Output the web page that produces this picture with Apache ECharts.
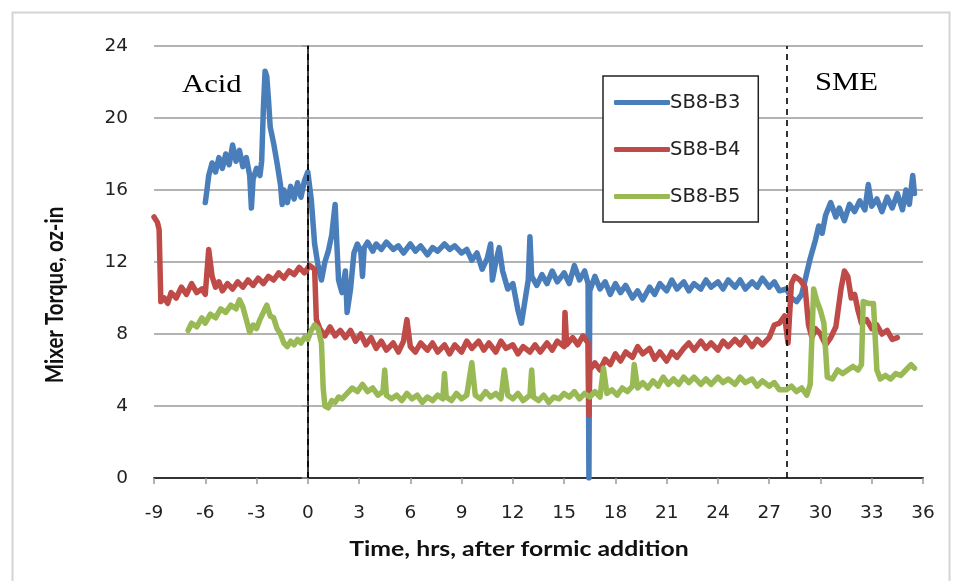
<!DOCTYPE html>
<html>
<head>
<meta charset="utf-8">
<script src="https://cdn.jsdelivr.net/npm/echarts@6/dist/echarts.min.js"></script>
<style>
  html, body { margin: 0; padding: 0; background: #fff; }
  #chart { width: 958px; height: 581px; }
</style>
</head>
<body>
<div id="chart"></div>
<script>
// Mixer torque (oz-in) vs time (hrs) after formic acid addition

const xTicks = [-9, -6, -3, 0, 3, 6, 9, 12, 15, 18, 21, 24, 27, 30, 33, 36];
const yTicks = [0, 4, 8, 12, 16, 20, 24];
const phaseMarks = [0, 28];
const seriesNames = ['SB8-B3', 'SB8-B4', 'SB8-B5'];

// SB8-B3
const b3Time = [-6.0,-5.9,-5.8,-5.6,-5.4,-5.2,-5.0,-4.8,-4.6,-4.4,-4.2,-4.0,-3.8,-3.6,-3.4,-3.3,-3.2,-3.0,-2.8,-2.7,-2.6,-2.5,-2.4,-2.3,-2.2,-2.0,-1.8,-1.6,-1.5,-1.4,-1.2,-1.0,-0.8,-0.6,-0.4,-0.2,0.0,0.2,0.4,0.6,0.8,1.0,1.2,1.4,1.6,1.7,1.8,2.0,2.2,2.3,2.5,2.7,2.9,3.1,3.2,3.3,3.5,3.8,4.0,4.3,4.6,5.0,5.3,5.6,6.0,6.3,6.6,7.0,7.3,7.6,8.0,8.3,8.6,9.0,9.3,9.6,9.9,10.2,10.5,10.7,10.8,11.0,11.2,11.4,11.7,12.0,12.3,12.5,12.7,12.9,13.0,13.1,13.4,13.7,14.0,14.3,14.6,15.0,15.3,15.6,15.9,16.2,16.4,16.45,16.5,16.8,17.1,17.4,17.7,18.0,18.3,18.6,19.0,19.3,19.6,20.0,20.3,20.6,21.0,21.3,21.6,22.0,22.3,22.6,23.0,23.3,23.6,24.0,24.3,24.6,25.0,25.3,25.6,26.0,26.3,26.6,27.0,27.3,27.6,28.0,28.3,28.6,28.9,29.1,29.4,29.7,29.9,30.1,30.3,30.6,30.9,31.1,31.4,31.7,32.0,32.3,32.6,32.8,33.0,33.3,33.6,33.9,34.2,34.5,34.8,35.0,35.2,35.4,35.5];
const b3Torque = [15.3,16.0,16.8,17.5,17.0,17.8,17.2,18.0,17.4,18.5,17.6,18.2,17.3,17.8,16.8,15.0,16.6,17.2,16.8,17.6,20.5,22.6,22.3,21.0,19.5,18.6,17.5,16.3,15.2,16.0,15.3,16.2,15.5,16.4,15.6,16.5,17.0,15.5,13.0,11.8,11.0,12.0,12.6,13.5,15.2,13.0,11.0,10.3,11.5,9.2,10.5,12.5,13.0,12.6,11.2,12.8,13.1,12.6,13.0,12.7,13.1,12.7,12.9,12.5,13.0,12.6,12.9,12.4,12.8,12.6,13.0,12.7,12.9,12.5,12.7,12.1,12.5,11.6,12.2,13.0,11.0,12.0,12.8,11.5,10.5,10.8,9.3,8.6,9.8,11.0,13.4,11.2,10.7,11.3,10.8,11.5,10.9,11.4,10.8,11.8,11.0,11.5,10.8,0.0,10.4,11.2,10.5,10.9,10.2,10.8,10.3,10.7,10.0,10.4,9.9,10.6,10.2,10.8,10.4,11.0,10.5,10.9,10.4,10.8,10.5,11.0,10.6,10.9,10.5,11.0,10.6,11.0,10.5,10.9,10.6,11.1,10.6,10.9,10.4,10.5,10.0,9.8,10.2,11.0,12.2,13.2,14.0,13.6,14.6,15.3,14.5,15.0,14.3,15.2,14.8,15.4,14.9,16.3,15.1,15.5,14.8,15.6,15.0,15.8,14.9,16.0,15.2,16.8,15.8];

// SB8-B4
const b4Time = [-9.0,-8.8,-8.7,-8.6,-8.4,-8.2,-8.0,-7.7,-7.4,-7.1,-6.8,-6.5,-6.2,-6.0,-5.8,-5.6,-5.4,-5.2,-5.0,-4.7,-4.4,-4.1,-3.8,-3.5,-3.2,-2.9,-2.6,-2.3,-2.0,-1.7,-1.4,-1.1,-0.8,-0.5,-0.2,0.1,0.4,0.5,0.7,1.0,1.3,1.6,1.9,2.2,2.5,2.8,3.1,3.4,3.7,4.0,4.3,4.6,5.0,5.3,5.6,5.8,6.0,6.3,6.6,7.0,7.3,7.6,8.0,8.3,8.6,9.0,9.3,9.6,10.0,10.3,10.6,11.0,11.3,11.6,12.0,12.3,12.6,13.0,13.3,13.6,14.0,14.3,14.6,15.0,15.05,15.15,15.5,15.8,16.1,16.4,16.45,16.5,16.8,17.1,17.4,17.7,18.0,18.3,18.6,19.0,19.3,19.6,20.0,20.3,20.6,21.0,21.3,21.6,22.0,22.3,22.6,23.0,23.3,23.6,24.0,24.3,24.6,25.0,25.3,25.6,26.0,26.3,26.6,27.0,27.3,27.6,27.9,28.1,28.3,28.5,28.8,29.1,29.3,29.5,29.7,30.0,30.3,30.6,30.9,31.2,31.4,31.6,31.8,32.0,32.2,32.4,32.7,33.0,33.3,33.6,33.9,34.2,34.5];
const b4Torque = [14.5,14.2,13.8,9.8,10.0,9.7,10.3,10.0,10.6,10.2,10.8,10.3,10.5,10.2,12.7,11.2,10.6,10.9,10.4,10.8,10.5,10.9,10.6,11.0,10.7,11.1,10.8,11.2,11.0,11.4,11.1,11.5,11.3,11.7,11.4,11.8,11.6,8.8,8.3,7.9,8.4,7.9,8.2,7.8,8.2,7.6,8.0,7.4,7.8,7.2,7.6,7.1,7.5,7.0,7.6,8.8,7.3,7.0,7.5,7.1,7.5,7.0,7.4,6.9,7.4,7.0,7.6,7.2,7.6,7.1,7.5,7.0,7.6,7.2,7.4,6.9,7.3,7.0,7.4,7.0,7.5,7.1,7.6,7.3,9.2,7.4,7.8,7.4,7.9,7.5,3.5,6.0,6.4,6.0,6.6,6.3,6.9,6.5,7.0,6.7,7.3,6.9,7.2,6.6,7.0,6.5,7.0,6.7,7.2,7.5,7.1,7.6,7.2,7.5,7.1,7.6,7.3,7.7,7.4,7.8,7.3,7.7,7.4,7.8,8.5,8.6,9.0,7.5,10.8,11.2,11.0,10.6,8.5,7.8,8.3,8.0,7.4,7.8,8.4,10.5,11.5,11.2,10.0,10.2,9.3,8.6,8.8,8.3,8.5,8.0,8.2,7.7,7.8];

// SB8-B5
const b5Time = [-7.0,-6.8,-6.5,-6.2,-6.0,-5.7,-5.4,-5.1,-4.8,-4.5,-4.2,-4.0,-3.8,-3.6,-3.4,-3.2,-3.0,-2.8,-2.6,-2.4,-2.2,-2.0,-1.8,-1.6,-1.4,-1.2,-1.0,-0.8,-0.6,-0.4,-0.2,0.0,0.2,0.4,0.6,0.8,0.9,1.0,1.2,1.4,1.6,1.8,2.0,2.3,2.6,2.9,3.2,3.5,3.8,4.1,4.4,4.5,4.6,4.9,5.2,5.5,5.8,6.1,6.4,6.7,7.0,7.3,7.6,7.9,8.0,8.1,8.4,8.7,9.0,9.3,9.6,9.8,10.1,10.4,10.7,11.0,11.3,11.5,11.7,12.0,12.3,12.6,13.0,13.1,13.2,13.5,13.8,14.1,14.4,14.7,15.0,15.3,15.6,15.9,16.2,16.5,16.8,17.1,17.3,17.5,17.8,18.1,18.4,18.7,19.0,19.1,19.3,19.6,19.9,20.2,20.5,20.8,21.1,21.4,21.7,22.0,22.3,22.6,23.0,23.3,23.6,24.0,24.3,24.6,25.0,25.3,25.6,26.0,26.3,26.6,27.0,27.3,27.6,28.0,28.3,28.6,28.9,29.2,29.4,29.6,29.8,30.0,30.2,30.4,30.7,31.0,31.3,31.6,31.9,32.2,32.4,32.5,32.8,33.1,33.3,33.5,33.8,34.1,34.4,34.7,35.0,35.3,35.5];
const b5Torque = [8.2,8.6,8.4,8.9,8.6,9.1,8.9,9.4,9.2,9.6,9.4,9.9,9.5,8.8,8.1,8.5,8.3,8.8,9.2,9.6,9.0,8.9,8.3,8.0,7.5,7.3,7.6,7.4,7.7,7.5,7.8,7.7,8.2,8.5,8.3,7.5,5.0,4.0,3.9,4.3,4.2,4.5,4.4,4.7,5.0,4.8,5.2,4.8,5.0,4.6,4.8,6.0,4.6,4.4,4.6,4.3,4.7,4.4,4.6,4.2,4.5,4.3,4.6,4.4,5.8,4.5,4.3,4.7,4.4,4.6,6.4,4.6,4.4,4.8,4.5,4.7,4.4,6.0,4.6,4.4,4.7,4.3,4.6,6.0,4.5,4.3,4.6,4.2,4.5,4.4,4.7,4.5,4.8,4.4,4.7,4.5,4.8,4.5,6.1,4.7,4.9,4.6,5.0,4.8,5.1,6.3,5.0,5.3,5.0,5.4,5.1,5.6,5.2,5.5,5.2,5.6,5.3,5.6,5.2,5.5,5.2,5.6,5.3,5.5,5.2,5.6,5.3,5.5,5.1,5.4,5.1,5.3,4.9,4.9,5.1,4.8,5.0,4.6,5.2,10.5,9.8,9.3,8.6,5.6,5.5,6.0,5.8,6.0,6.2,6.0,6.3,9.8,9.7,9.7,6.0,5.5,5.7,5.5,5.8,5.7,6.0,6.3,6.1];

const colors = ['#4A7EBB', '#BE4B48', '#98B954'];
const pair = (t, v) => t.map((x, i) => [x, v[i]]);
const seriesData = [pair(b3Time, b3Torque), pair(b4Time, b4Torque), pair(b5Time, b5Torque)];

const chart = echarts.init(document.getElementById('chart'), null, { renderer: 'canvas' });

const labelFont = { fontFamily: 'DejaVu Sans', fontSize: 18.5, color: '#222' };
const gridGray = '#9a9a9a';

const series = seriesNames.map((name, i) => ({
  name: name,
  type: 'line',
  data: seriesData[i],
  showSymbol: false,
  symbol: 'none',
  animation: false,
  lineStyle: { color: colors[i], width: 5.5, join: 'round', cap: 'round' },
  itemStyle: { color: colors[i] },
  z: 3 + i
}));

// Dashed phase boundaries (acid addition / SME start)
series.push({
  name: 'phases',
  type: 'line',
  data: [],
  silent: true,
  markLine: {
    symbol: 'none',
    silent: true,
    animation: false,
    label: { show: false },
    lineStyle: { color: '#000', type: [6, 5], width: 1.6 },
    data: phaseMarks.map(v => ({ xAxis: v }))
  },
  z: 8
});

chart.setOption({
  animation: false,
  backgroundColor: '#fff',
  grid: { left: 154, right: 35, top: 46, bottom: 103, containLabel: false },
  legend: {
    data: seriesNames.map(n => ({ name: n, icon: 'roundRect' })),
    orient: 'vertical',
    left: 603,
    top: 76,
    itemWidth: 56,
    itemHeight: 5,
    itemGap: 26,
    padding: [16, 18, 15, 11],
    borderColor: '#222',
    borderWidth: 1.5,
    backgroundColor: '#fff',
    textStyle: { fontFamily: 'DejaVu Sans', fontSize: 19.5, color: '#222', lineHeight: 21, padding: [0, 0, 0, -5] },
    z: 10
  },
  xAxis: [{
    type: 'value',
    min: -9, max: 36, interval: 3,
    axisLine: { show: true, onZero: false, lineStyle: { color: gridGray, width: 1.5 } },
    axisTick: { show: true, length: 6, lineStyle: { color: gridGray, width: 1.5 } },
    axisLabel: Object.assign({ margin: 26, formatter: v => String(v) }, labelFont),
    splitLine: { show: false }
  }, {
    type: 'value',
    position: 'top',
    min: -9, max: 36,
    axisLine: { show: true, lineStyle: { color: '#333', width: 1.8 } },
    axisTick: { show: false },
    axisLabel: { show: false },
    splitLine: { show: false }
  }],
  yAxis: [{
    type: 'value',
    min: 0, max: 24, interval: 4,
    axisLine: { show: true, lineStyle: { color: gridGray, width: 1.5 } },
    axisTick: { show: true, length: 6, lineStyle: { color: gridGray, width: 1.5 } },
    axisLabel: Object.assign({ margin: 26 }, labelFont),
    splitLine: { show: true, lineStyle: { color: gridGray, width: 1.5 } }
  }, {
    type: 'value',
    position: 'right',
    min: 0, max: 24,
    axisLine: { show: true, lineStyle: { color: '#333', width: 1.8 } },
    axisTick: { show: false },
    axisLabel: { show: false },
    splitLine: { show: false }
  }],
  graphic: [
    { type: 'rect', left: 10, top: 10, z: -10, silent: true,
      shape: { width: 937, height: 580 },
      style: { fill: 'none', stroke: '#d4d4d4', lineWidth: 2 } },
    // axis titles (drawn slightly wide, as in the source layout)
    { type: 'text', x: 519, y: 550, scaleX: 1.24, z: 20,
      style: { text: 'Time, hrs, after formic addition', font: 'bold 20px Lato',
               fill: '#111', textAlign: 'center', textVerticalAlign: 'middle' } },
    { type: 'text', x: 55, y: 295, rotation: Math.PI / 2, scaleY: 1.24, z: 20,
      style: { text: 'Mixer Torque, oz-in', font: 'bold 20.5px Lato',
               fill: '#111', textAlign: 'center', textVerticalAlign: 'middle' } },
    { type: 'text', x: 182, y: 72, scaleX: 1.18, z: 20,
      style: { text: 'Acid', font: '26px "Liberation Serif", "DejaVu Serif", serif', fill: '#000' } },
    { type: 'text', x: 815, y: 70, scaleX: 1.18, z: 20,
      style: { text: 'SME', font: '26px "Liberation Serif", "DejaVu Serif", serif', fill: '#000' } }
  ],
  series: series
});
</script>
</body>
</html>
